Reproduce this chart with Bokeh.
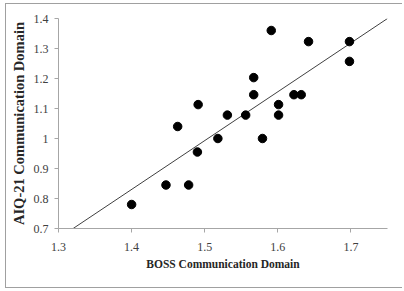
from bokeh.plotting import figure
from bokeh.models import ColumnDataSource, FixedTicker, Range1d
from bokeh.embed import file_html
from bokeh.resources import INLINE

boss = [1.40, 1.447, 1.478, 1.49, 1.463, 1.491, 1.518, 1.531, 1.556, 1.567,
        1.567, 1.579, 1.591, 1.601, 1.601, 1.622, 1.632, 1.642, 1.698, 1.698]
aiq = [0.78, 0.845, 0.845, 0.955, 1.04, 1.113, 1.0, 1.078, 1.078, 1.146,
       1.203, 1.0, 1.36, 1.113, 1.078, 1.146, 1.146, 1.323, 1.323, 1.257]
trend_x = [1.32, 1.75]
trend_y = [0.70, 1.40]
x_ticks = [1.3, 1.4, 1.5, 1.6, 1.7]
y_ticks = [0.7, 0.8, 0.9, 1.0, 1.1, 1.2, 1.3, 1.4]

p = figure(width=397, height=285, output_backend="svg", toolbar_location=None,
           x_range=Range1d(1.3, 1.75), y_range=Range1d(0.7, 1.4),
           min_border_left=52, min_border_top=14, min_border_right=16, min_border_bottom=61,
           styles={"margin-left": "5px", "margin-top": "3px",
                   "border-left": "1px solid #a0a0a0", "border-top": "1px solid #a0a0a0",
                   "border-bottom": "1px solid #a0a0a0"})
p.outline_line_color = None
p.grid.visible = False

src = ColumnDataSource(dict(x=boss, y=aiq))
p.line(trend_x, trend_y, line_color="#404040", line_width=1)
p.scatter("x", "y", source=src, size=8.5, fill_color="black", line_color="black")

for ax in (p.xaxis[0], p.yaxis[0]):
    ax.axis_line_color = "#a6a6a6"
    ax.major_tick_line_color = "#a6a6a6"
    ax.major_tick_out = 4
    ax.major_tick_in = 0
    ax.minor_tick_line_color = None
    ax.major_label_text_font = "Liberation Serif"
    ax.major_label_text_font_size = "12px"
    ax.major_label_text_color = "#404040"
    ax.axis_label_text_font = "Liberation Serif"
    ax.axis_label_text_font_style = "bold"
    ax.axis_label_text_color = "#262626"

p.xaxis[0].ticker = FixedTicker(ticks=x_ticks)
p.yaxis[0].ticker = FixedTicker(ticks=y_ticks)
p.xaxis[0].major_label_overrides = {1.3: "1.3", 1.4: "1.4", 1.5: "1.5", 1.6: "1.6", 1.7: "1.7"}
p.yaxis[0].major_label_overrides = {0.7: "0.7", 0.8: "0.8", 0.9: "0.9", 1.0: "1", 1.1: "1.1",
                                    1.2: "1.2", 1.3: "1.3", 1.4: "1.4"}
p.xaxis[0].major_label_standoff = 10
p.yaxis[0].major_label_standoff = 6
p.xaxis[0].axis_label = "BOSS Communication Domain"
p.yaxis[0].axis_label = "AIQ-21 Communication Domain"
p.xaxis[0].axis_label_text_font_size = "11.5px"
p.yaxis[0].axis_label_text_font_size = "14.5px"
p.xaxis[0].axis_label_standoff = 4
p.yaxis[0].axis_label_standoff = 4

open("out.html", "w").write(file_html(p, INLINE))
